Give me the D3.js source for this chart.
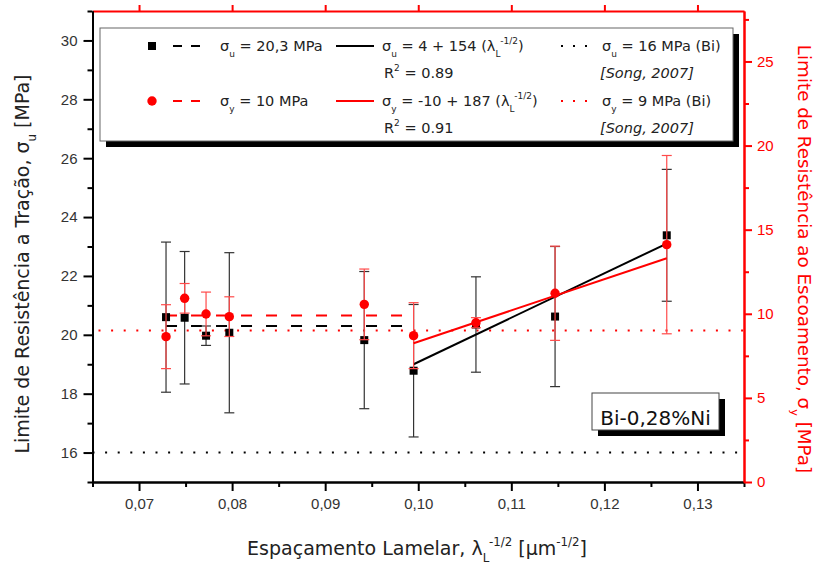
<!DOCTYPE html>
<html>
<head>
<meta charset="utf-8">
<script src="https://cdn.jsdelivr.net/npm/d3@7"></script>
<style>
  body { margin: 0; background: #fff; }
  svg { font-family: Tahoma, "DejaVu Sans", sans-serif; }
</style>
</head>
<body>
<svg id="chart" width="821" height="565"></svg>
<script>
// spacing values (x) and the two strength series
const lambdaVals = [0.0729, 0.0749, 0.0772, 0.0797, 0.0942, 0.0995, 0.1062, 0.1147, 0.1267];
const sigmaU = [20.6, 20.58, 19.97, 20.07, 19.82, 18.78, 20.35, 20.62, 23.38];
const sigmaUErr = [2.55, 2.25, 0.33, 2.72, 2.33, 2.25, 1.62, 2.38, 2.24];
const sigmaY = [8.64, 10.92, 9.99, 9.83, 10.56, 8.70, 9.47, 11.22, 14.11];
const sigmaYErr = [1.9, 0.88, 1.3, 1.18, 2.1, 1.96, 0.3, 2.8, 5.3];

// mean lines, fit lines, reference (Bi) lines
const meanRange = [0.0729, 0.0995];
const meanU = 20.3;
const meanY = 9.9;
const fitX = [0.0995, 0.1267];
const fitU = [19.0, 23.1];
const fitY = [8.25, 13.3];
const refU = 16;
const refY = 9;

// ticks
const xTicks = [0.07, 0.08, 0.09, 0.10, 0.11, 0.12, 0.13];
const xMinor = [0.065, 0.075, 0.085, 0.095, 0.105, 0.115, 0.125, 0.135];
const yLeftTicks = [16, 18, 20, 22, 24, 26, 28, 30];
const yLeftMinor = [15, 17, 19, 21, 23, 25, 27, 29, 31];
const yRightTicks = [0, 5, 10, 15, 20, 25];
const yRightMinor = [2.5, 7.5, 12.5, 17.5, 22.5, 27.5];

let svg = d3.select("#chart");
let plot = {left: 92.5, right: 744, top: 11, bottom: 482};

let xScale = d3.scaleLinear().domain([0.065, 0.135]).range([plot.left, plot.right]);
let yLeft = d3.scaleLinear().domain([15, 31]).range([plot.bottom, plot.top]);
let yRight = d3.scaleLinear().domain([0, 28]).range([plot.bottom, plot.top]);

let red = "#ff0000";
let textCol = "#222";

// text with sub/superscripts: parts = [[text, kind], ...]
function richText(g, x, y, parts, size) {
    let t = g.append("text")
        .attr("x", x)
        .attr("y", y)
        .attr("font-size", size)
        .attr("fill", textCol);
    let shift = 0;
    parts.forEach(p => {
        let target = 0;
        if (p[1] === "sub") target = size * 0.38;
        else if (p[1] === "sup") target = -size * 0.45;
        t.append("tspan")
            .attr("dy", target - shift)
            .attr("font-size", p[1] ? size * 0.62 : size)
            .text(p[0]);
        shift = target;
    });
    return t;
}

// reference lines (Bi)
svg.append("line")
    .attr("x1", plot.left).attr("x2", plot.right)
    .attr("y1", yLeft(refU)).attr("y2", yLeft(refU))
    .attr("stroke", "#000").attr("stroke-width", 2)
    .attr("stroke-dasharray", "2,10.6");
svg.append("line")
    .attr("x1", plot.left + 6).attr("x2", plot.right)
    .attr("y1", yRight(refY)).attr("y2", yRight(refY))
    .attr("stroke", red).attr("stroke-width", 2)
    .attr("stroke-dasharray", "2,10.6");

// mean dashed lines
svg.append("line")
    .attr("x1", xScale(meanRange[0])).attr("x2", xScale(meanRange[1]))
    .attr("y1", yLeft(meanU)).attr("y2", yLeft(meanU))
    .attr("stroke", "#000").attr("stroke-width", 2)
    .attr("stroke-dasharray", "11,14");
svg.append("line")
    .attr("x1", xScale(meanRange[0])).attr("x2", xScale(meanRange[1]))
    .attr("y1", yRight(meanY)).attr("y2", yRight(meanY))
    .attr("stroke", red).attr("stroke-width", 2)
    .attr("stroke-dasharray", "11,14");

let dataU = lambdaVals.map((d, i) => ({x: d, y: sigmaU[i], e: sigmaUErr[i]}));
let dataY = lambdaVals.map((d, i) => ({x: d, y: sigmaY[i], e: sigmaYErr[i]}));

function errorBars(data, yScale, color, cls) {
    let g = svg.append("g").classed(cls, true)
        .attr("stroke", color).attr("stroke-width", 1.2);
    g.selectAll("line.v").data(data).enter().append("line")
        .attr("x1", d => xScale(d.x)).attr("x2", d => xScale(d.x))
        .attr("y1", d => yScale(d.y - d.e)).attr("y2", d => yScale(d.y + d.e));
    g.selectAll("line.top").data(data).enter().append("line")
        .attr("x1", d => xScale(d.x) - 5).attr("x2", d => xScale(d.x) + 5)
        .attr("y1", d => yScale(d.y + d.e)).attr("y2", d => yScale(d.y + d.e));
    g.selectAll("line.bot").data(data).enter().append("line")
        .attr("x1", d => xScale(d.x) - 5).attr("x2", d => xScale(d.x) + 5)
        .attr("y1", d => yScale(d.y - d.e)).attr("y2", d => yScale(d.y - d.e));
}

// black series
errorBars(dataU, yLeft, "#333", "err-u");
svg.append("g").selectAll("rect").data(dataU).enter().append("rect")
    .attr("x", d => xScale(d.x) - 4)
    .attr("y", d => yLeft(d.y) - 4)
    .attr("width", 8).attr("height", 8)
    .attr("fill", "#000");

svg.append("path")
    .datum(fitX.map((d, i) => [d, fitU[i]]))
    .attr("d", d3.line().x(d => xScale(d[0])).y(d => yLeft(d[1])))
    .attr("stroke", "#000").attr("stroke-width", 2).attr("fill", "none");

// red series
errorBars(dataY, yRight, "#ff4a4a", "err-y");
svg.append("g").selectAll("circle").data(dataY).enter().append("circle")
    .attr("cx", d => xScale(d.x))
    .attr("cy", d => yRight(d.y))
    .attr("r", 4.7)
    .attr("fill", red);

svg.append("path")
    .datum(fitX.map((d, i) => [d, fitY[i]]))
    .attr("d", d3.line().x(d => xScale(d[0])).y(d => yRight(d[1])))
    .attr("stroke", red).attr("stroke-width", 2).attr("fill", "none");

// axes
let fmt = d => d3.format(".2f")(d).replace(".", ",");

function styleAxis(g, color) {
    g.select(".domain").attr("stroke", color).attr("stroke-width", 2);
    g.selectAll(".tick line").attr("stroke", color).attr("stroke-width", 2);
    g.selectAll(".tick text").attr("font-size", 15).attr("fill", color === red ? red : "#333")
        .attr("font-family", null);
}

let xAxisG = svg.append("g")
    .attr("transform", "translate(0," + plot.bottom + ")")
    .call(d3.axisBottom(xScale).tickValues(xTicks).tickFormat(fmt).tickSize(9).tickSizeOuter(0).tickPadding(7));
styleAxis(xAxisG, "#000");
let xMinorG = svg.append("g")
    .attr("transform", "translate(0," + plot.bottom + ")")
    .call(d3.axisBottom(xScale).tickValues(xMinor).tickFormat("").tickSize(5).tickSizeOuter(0));
styleAxis(xMinorG, "#000");

let topG = svg.append("g")
    .attr("transform", "translate(0," + plot.top + ")")
    .call(d3.axisTop(xScale).tickValues(xTicks).tickFormat("").tickSize(6).tickSizeOuter(0));
styleAxis(topG, red);

let yLeftG = svg.append("g")
    .attr("transform", "translate(" + plot.left + ",0)")
    .call(d3.axisLeft(yLeft).tickValues(yLeftTicks).tickSize(9).tickSizeOuter(0).tickPadding(6));
styleAxis(yLeftG, "#000");
let yLeftMinorG = svg.append("g")
    .attr("transform", "translate(" + plot.left + ",0)")
    .call(d3.axisLeft(yLeft).tickValues(yLeftMinor).tickFormat("").tickSize(5).tickSizeOuter(0));
styleAxis(yLeftMinorG, "#000");

let yRightG = svg.append("g")
    .attr("transform", "translate(" + plot.right + ",0)")
    .call(d3.axisRight(yRight).tickValues(yRightTicks).tickSize(8).tickSizeOuter(0).tickPadding(5));
styleAxis(yRightG, red);
let yRightMinorG = svg.append("g")
    .attr("transform", "translate(" + plot.right + ",0)")
    .call(d3.axisRight(yRight).tickValues(yRightMinor).tickFormat("").tickSize(5).tickSizeOuter(0));
styleAxis(yRightMinorG, red);

// axis titles
richText(svg, 417, 555, [
    ["Espaçamento Lamelar, λ", null], ["L", "sub"], ["-1/2", "sup"],
    [" [μm", null], ["-1/2", "sup"], ["]", null]
], 19).attr("text-anchor", "middle");

let yTitleG = svg.append("g").attr("transform", "translate(29,264) rotate(-90)");
richText(yTitleG, 0, 0, [
    ["Limite de Resistência a Tração, σ", null], ["u", "sub"], [" [MPa]", null]
], 19).attr("text-anchor", "middle");

let yRightTitleG = svg.append("g").attr("transform", "translate(798,259) rotate(90)");
richText(yRightTitleG, 0, 0, [
    ["Limite de Resistência ao Escoamento, σ", null], ["y", "sub"], [" [MPa]", null]
], 18.3).attr("text-anchor", "middle").attr("fill", red);

// legend
let legend = svg.append("g");
legend.append("rect")
    .attr("x", 106).attr("y", 34).attr("width", 633).attr("height", 113)
    .attr("fill", "#000");
legend.append("rect")
    .attr("x", 100).attr("y", 28).attr("width", 633).attr("height", 113)
    .attr("fill", "#fff").attr("stroke", "#666").attr("stroke-width", 1);

let rows = [46, 73, 101, 128];
legend.append("rect").attr("x", 148).attr("y", rows[0] - 4).attr("width", 8).attr("height", 8).attr("fill", "#000");
legend.append("circle").attr("cx", 152).attr("cy", rows[2]).attr("r", 4.7).attr("fill", red);

function legLine(x1, x2, y, color, dash) {
    legend.append("line")
        .attr("x1", x1).attr("x2", x2).attr("y1", y).attr("y2", y)
        .attr("stroke", color).attr("stroke-width", 2)
        .attr("stroke-dasharray", dash);
}
legLine(173, 209, rows[0], "#000", "9,9");
legLine(173, 209, rows[2], red, "9,9");
legLine(336, 374, rows[0], "#000", null);
legLine(336, 374, rows[2], red, null);
legLine(561, 591, rows[0], "#000", "2,10");
legLine(561, 591, rows[2], red, "2,10");

let ls = 14.5;
richText(legend, 220, rows[0] + 5, [["σ", null], ["u", "sub"], [" = 20,3 MPa", null]], ls);
richText(legend, 382, rows[0] + 5, [["σ", null], ["u", "sub"], [" = 4 + 154 (λ", null], ["L", "sub"], ["-1/2", "sup"], [")", null]], ls);
richText(legend, 602, rows[0] + 5, [["σ", null], ["u", "sub"], [" = 16 MPa (Bi)", null]], ls);
richText(legend, 384, rows[1] + 5, [["R", null], ["2", "sup"], [" = 0.89", null]], ls);
richText(legend, 600, rows[1] + 5, [["[Song, 2007]", null]], ls).attr("font-style", "italic");
richText(legend, 220, rows[2] + 5, [["σ", null], ["y", "sub"], [" = 10 MPa", null]], ls);
richText(legend, 382, rows[2] + 5, [["σ", null], ["y", "sub"], [" = -10 + 187 (λ", null], ["L", "sub"], ["-1/2", "sup"], [")", null]], ls);
richText(legend, 602, rows[2] + 5, [["σ", null], ["y", "sub"], [" = 9 MPa (Bi)", null]], ls);
richText(legend, 384, rows[3] + 5, [["R", null], ["2", "sup"], [" = 0.91", null]], ls);
richText(legend, 600, rows[3] + 5, [["[Song, 2007]", null]], ls).attr("font-style", "italic");

// alloy label
let note = svg.append("g");
note.append("rect").attr("x", 598).attr("y", 399).attr("width", 127).attr("height", 37).attr("fill", "#000");
note.append("rect").attr("x", 592).attr("y", 393).attr("width", 127).attr("height", 37)
    .attr("fill", "#fff").attr("stroke", "#444").attr("stroke-width", 1);
note.append("text")
    .attr("x", 655.5).attr("y", 419)
    .attr("text-anchor", "middle").attr("dominant-baseline", "middle")
    .attr("font-size", 20).attr("fill", "#111")
    .text("Bi-0,28%Ni");
</script>
</body>
</html>
